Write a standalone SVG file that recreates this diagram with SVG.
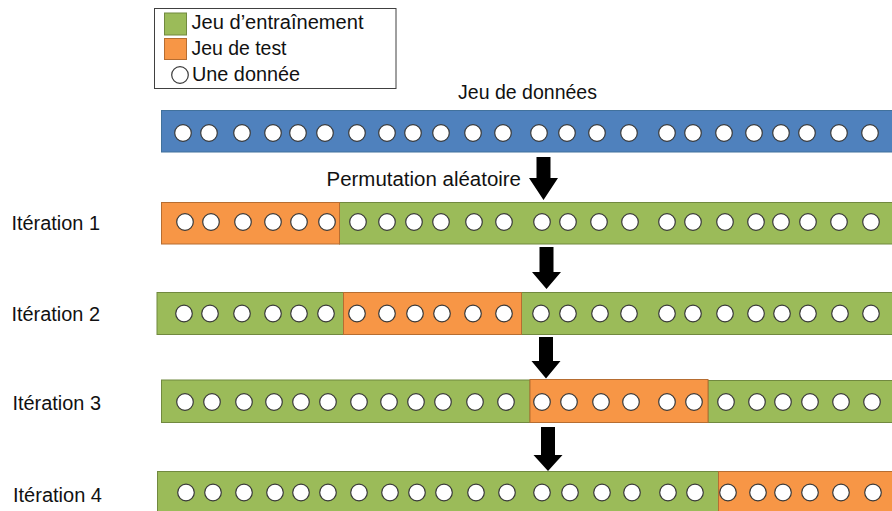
<svg xmlns="http://www.w3.org/2000/svg" xmlns:xlink="http://www.w3.org/1999/xlink" width="892" height="511" viewBox="0 0 892 511">
  <style>
    .t { font-family: "Liberation Sans", Arial, sans-serif; font-size: 19.5px; fill: #111; }
    .blue { fill: #4F81BD; stroke: #41719C; stroke-width: 1; }
    .green { fill: #9BBB59; stroke: #71893F; stroke-width: 1; }
    .orange { fill: #F79646; stroke: #B66D31; stroke-width: 1; }
    .dot { fill: #fff; stroke: #3a3a3a; stroke-width: 1.2; }
    .arrow { fill: #000; }
  </style>
  <defs>
    <circle id="d" r="8.3" class="dot"/>
    <polygon id="arr" class="arrow" points="-7,0 7,0 7,21 14.5,21 0,43 -14.5,21 -7,21"/>
  </defs>
  <rect width="892" height="511" fill="#fff"/>

  <g id="legend">
    <rect x="154.5" y="8.5" width="241.5" height="80" fill="#fff" stroke="#404040" stroke-width="1"/>
    <rect x="164.5" y="13" width="22" height="22" class="green"/>
    <rect x="164.5" y="38.5" width="22" height="21" class="orange"/>
    <circle cx="180" cy="75" r="8.3" class="dot"/>
    <text class="t" x="191.5" y="28.5" textLength="172" lengthAdjust="spacingAndGlyphs">Jeu d’entraînement</text>
    <text class="t" x="191.5" y="54.5" textLength="95" lengthAdjust="spacingAndGlyphs">Jeu de test</text>
    <text class="t" x="192" y="81" textLength="108" lengthAdjust="spacingAndGlyphs">Une donnée</text>
  </g>

  <g id="dataset">
    <text class="t" x="458" y="98.5" textLength="139" lengthAdjust="spacingAndGlyphs">Jeu de données</text>
    <rect x="161.5" y="110.5" width="740" height="41.5" class="blue"/>
    <g transform="translate(0,133)">
      <use href="#d" x="183"/><use href="#d" x="209"/><use href="#d" x="242"/><use href="#d" x="273"/><use href="#d" x="298"/><use href="#d" x="325"/>
      <use href="#d" x="357"/><use href="#d" x="387"/><use href="#d" x="413"/><use href="#d" x="441"/><use href="#d" x="473"/><use href="#d" x="503"/>
      <use href="#d" x="539"/><use href="#d" x="567"/><use href="#d" x="597"/><use href="#d" x="629"/><use href="#d" x="667"/><use href="#d" x="693"/>
      <use href="#d" x="724"/><use href="#d" x="754"/><use href="#d" x="781"/><use href="#d" x="807"/><use href="#d" x="839"/><use href="#d" x="870"/>
    </g>
  </g>

  <text class="t" x="326.5" y="186" textLength="194.5" lengthAdjust="spacingAndGlyphs">Permutation aléatoire</text>

  <g id="iteration1">
    <text class="t" x="11.5" y="229.5" textLength="88.5" lengthAdjust="spacingAndGlyphs">Itération 1</text>
    <rect x="339.5" y="202.5" width="560" height="41.5" class="green"/>
    <rect x="161.5" y="202.5" width="178" height="41.5" class="orange"/>
    <g transform="translate(0,222)">
      <use href="#d" x="185"/><use href="#d" x="211"/><use href="#d" x="243"/><use href="#d" x="273"/><use href="#d" x="299"/><use href="#d" x="327"/>
      <use href="#d" x="358"/><use href="#d" x="387"/><use href="#d" x="414"/><use href="#d" x="441"/><use href="#d" x="474"/><use href="#d" x="504"/>
      <use href="#d" x="542"/><use href="#d" x="568"/><use href="#d" x="599"/><use href="#d" x="630"/><use href="#d" x="667"/><use href="#d" x="693"/>
      <use href="#d" x="725"/><use href="#d" x="756"/><use href="#d" x="781"/><use href="#d" x="808"/><use href="#d" x="839"/><use href="#d" x="871"/>
    </g>
  </g>

  <g id="iteration2">
    <text class="t" x="11.5" y="320.5" textLength="88.5" lengthAdjust="spacingAndGlyphs">Itération 2</text>
    <rect x="157" y="292.5" width="186.5" height="42" class="green"/>
    <rect x="521.5" y="292.5" width="380" height="42" class="green"/>
    <rect x="343.5" y="292.5" width="178" height="42" class="orange"/>
    <g transform="translate(0,313.5)">
      <use href="#d" x="184"/><use href="#d" x="210"/><use href="#d" x="242"/><use href="#d" x="273"/><use href="#d" x="299"/><use href="#d" x="326"/>
      <use href="#d" x="357"/><use href="#d" x="387"/><use href="#d" x="415"/><use href="#d" x="442"/><use href="#d" x="473"/><use href="#d" x="504"/>
      <use href="#d" x="541"/><use href="#d" x="568"/><use href="#d" x="600"/><use href="#d" x="629"/><use href="#d" x="667"/><use href="#d" x="693"/>
      <use href="#d" x="725"/><use href="#d" x="756"/><use href="#d" x="782"/><use href="#d" x="808"/><use href="#d" x="840"/><use href="#d" x="871"/>
    </g>
  </g>

  <g id="iteration3">
    <text class="t" x="12.5" y="410" textLength="88.5" lengthAdjust="spacingAndGlyphs">Itération 3</text>
    <rect x="161.5" y="380" width="368.5" height="42.5" class="green"/>
    <rect x="708" y="380.5" width="190" height="42" class="green"/>
    <rect x="530" y="379.5" width="178" height="43" class="orange"/>
    <g transform="translate(0,402)">
      <use href="#d" x="185"/><use href="#d" x="212"/><use href="#d" x="244"/><use href="#d" x="274"/><use href="#d" x="301"/><use href="#d" x="328"/>
      <use href="#d" x="359"/><use href="#d" x="389"/><use href="#d" x="416"/><use href="#d" x="443"/><use href="#d" x="475"/><use href="#d" x="506"/>
      <use href="#d" x="542"/><use href="#d" x="569"/><use href="#d" x="601"/><use href="#d" x="631"/><use href="#d" x="667"/><use href="#d" x="694"/>
      <use href="#d" x="726"/><use href="#d" x="757"/><use href="#d" x="783"/><use href="#d" x="810"/><use href="#d" x="841"/><use href="#d" x="872"/>
    </g>
  </g>

  <g id="iteration4">
    <text class="t" x="13" y="501.5" textLength="89" lengthAdjust="spacingAndGlyphs">Itération 4</text>
    <rect x="157.5" y="471.5" width="561" height="45" class="green"/>
    <rect x="718.5" y="471.5" width="180" height="45" class="orange"/>
    <g transform="translate(0,492.5)">
      <use href="#d" x="186"/><use href="#d" x="213"/><use href="#d" x="244"/><use href="#d" x="275"/><use href="#d" x="301"/><use href="#d" x="328"/>
      <use href="#d" x="359"/><use href="#d" x="390"/><use href="#d" x="417"/><use href="#d" x="444"/><use href="#d" x="476"/><use href="#d" x="507"/>
      <use href="#d" x="542"/><use href="#d" x="570"/><use href="#d" x="602"/><use href="#d" x="632"/><use href="#d" x="668"/><use href="#d" x="695"/>
      <use href="#d" x="728"/><use href="#d" x="758"/><use href="#d" x="783"/><use href="#d" x="810"/><use href="#d" x="841"/><use href="#d" x="873"/>
    </g>
  </g>

  <g id="connectors">
    <polygon class="arrow" points="536.5,157 550.5,157 550.5,178 558,178 543.5,200 529,178 536.5,178"/>
    <polygon class="arrow" points="539.5,247 553.5,247 553.5,272 561,272 546.5,289 532,272 539.5,272"/>
    <polygon class="arrow" points="539,337 553,337 553,361 560.5,361 546,378.5 531.5,361 539,361"/>
    <polygon class="arrow" points="541,427 555,427 555,455 562.5,455 548,471 533.5,455 541,455"/>
  </g>
</svg>
